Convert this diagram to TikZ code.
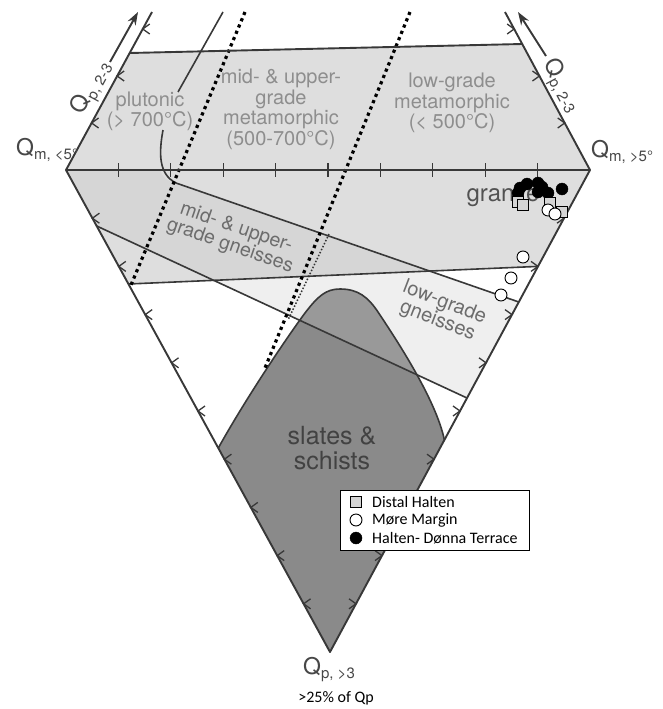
\documentclass[tikz,border=0pt]{standalone}
\usepackage{fontspec}
\setmainfont{TeX Gyre Heros}
\newfontfamily\calfont{Carlito}
\usetikzlibrary{arrows.meta}
\definecolor{fieldgrey}{HTML}{DEDEDE}
\definecolor{bandlight}{HTML}{EFEFEF}
\definecolor{linecol}{HTML}{383838}
\definecolor{labgrey}{HTML}{8E8E8E}
\definecolor{gnlab}{HTML}{6C6C6C}
\definecolor{slategrey}{HTML}{8A8A8A}
\definecolor{qcol}{HTML}{474747}
\definecolor{sqfill}{HTML}{D4D4D4}
\newcommand\Qsub[2]{{\fontsize{23}{23}\selectfont #1}\raisebox{-4pt}{\fontsize{15}{15}\selectfont #2}}
\begin{document}
\begin{tikzpicture}[x=1pt,y=-1pt,
  ln/.style={draw=linecol, line width=1.9pt, line join=round},
  thinln/.style={draw=linecol, line width=1.6pt},
  tk/.style={draw=linecol, line width=1.3pt},
  bigdots/.style={draw=black, line width=3.2pt, dash pattern=on 3.2pt off 3.6pt},
  finedots/.style={draw=black!80, line width=1.5pt, dash pattern=on 1.5pt off 1.8pt},
  toplab/.style={text=labgrey, align=center, inner sep=0pt, font=\fontsize{20}{20.5}\selectfont},
  gnl/.style={text=gnlab, align=center, inner sep=0pt, font=\fontsize{19.5}{19}\selectfont},
  qlab/.style={text=qcol, inner sep=0pt},
  blk/.style={fill=black, draw=black, circle, inner sep=0pt, minimum size=12pt},
  wht/.style={fill=white, draw=black, line width=0.9pt, circle, inner sep=0pt, minimum size=12pt},
  sq/.style={fill=sqfill, draw=black, line width=0.9pt, inner sep=0pt, minimum size=11pt},
  legtext/.style={anchor=west, inner sep=0pt, font=\calfont\fontsize{16}{16}\selectfont}]
\useasboundingbox (0,0) rectangle (662,709);
% key points
\coordinate (L) at (66,170);
\coordinate (R) at (590,170);
\coordinate (Bt) at (330,652);
\coordinate (TL) at (130,53);
\coordinate (TR) at (522,44);
\coordinate (ULe) at (152,12);
\coordinate (URe) at (505,12);
\coordinate (Bl) at (128.4,284);
\coordinate (Br) at (538,266.4);
\coordinate (Cl) at (96.7,226);
\coordinate (Cr) at (467,398);
\coordinate (Ar) at (518.8,302);
\coordinate (A0) at (176,183);
\coordinate (Sl) at (218.3,448);
\coordinate (Sr) at (444.4,440);
% fields
\fill[bandlight] (L) -- (160.5,170) .. controls (161,177) and (167,181) .. (A0) -- (Ar) -- (Cr) -- (Cl) -- cycle;
\fill[fieldgrey] (L) -- (TL) -- (TR) -- (R) -- (Br) -- (Bl) -- cycle;
\begin{scope}
\clip (L) -- (160.5,170) .. controls (161,177) and (167,181) .. (A0) -- (Ar) -- (Cr) -- (Cl) -- cycle;
\fill[black,opacity=0.035] (L) -- (R) -- (Br) -- (Bl) -- cycle;
\end{scope}
\fill[slategrey] (Sl) .. controls (245,400) and (285,340) .. (305,313) .. controls (318,296) and (326,289) .. (340,289) .. controls (358,289) and (368,297) .. (378,312) .. controls (398,342) and (436,400) .. (Sr) -- (Bt) -- cycle;
\begin{scope}
\clip (Sl) .. controls (245,400) and (285,340) .. (305,313) .. controls (318,296) and (326,289) .. (340,289) .. controls (358,289) and (368,297) .. (378,312) .. controls (398,342) and (436,400) .. (Sr) -- (Bt) -- cycle;
\fill[white,opacity=0.13] (Cl) -- (Cr) -- (Ar) -- (A0) -- cycle;
\end{scope}
\draw[thinln] (Sl) .. controls (245,400) and (285,340) .. (305,313) .. controls (318,296) and (326,289) .. (340,289) .. controls (358,289) and (368,297) .. (378,312) .. controls (398,342) and (436,400) .. (Sr);
% field boundaries
\draw[thinln] (223,12) -- (178,92);
\draw[thinln] (163,130) .. controls (159,152) and (158,174) .. (A0) -- (Ar);
\draw[thinln] (Bl) -- (Br);
\draw[thinln] (Cl) -- (Cr);
% dotted lines
\draw[bigdots] (245,12) -- (131,285);
\draw[bigdots] (410,12) -- (265,368);
\draw[finedots] (329,234) -- (288,320);
% frame
\draw[ln] (ULe) -- (L) -- (Bt) -- (R) -- (URe);
\draw[ln] (L) -- (R);
\draw[ln] (TL) -- (TR);
% ticks
\foreach \k in {1,...,9} \draw[tk] ({66+52.4*\k},163) -- ({66+52.4*\k},177);
\foreach \k in {1,...,9} \draw[tk,shift={({66+26.4*\k},{170+48.2*\k})}] (7,-5) -- (0,0) -- (7,5);
\foreach \k in {1,...,9} \draw[tk,shift={({590-26*\k},{170+48.2*\k})}] (-7,-5) -- (0,0) -- (-7,5);
\foreach \k in {1,2,3} \draw[tk,shift={({66+86*47*\k/158},{170-47*\k})}] (7,-5) -- (0,0) -- (7,5);
\foreach \k in {1,2,3} \draw[tk,shift={({590-85*47*\k/158},{170-47*\k})}] (-7,-5) -- (0,0) -- (-7,5);
% arrows
\coordinate (la0) at (110,62); \coordinate (la1) at (138,12);
\coordinate (ra0) at (546,56); \coordinate (ra1) at (518,12);
\draw[ln,-{Stealth[length=13pt,width=9pt]}] (la0) -- (la1);
\draw[ln,-{Stealth[length=13pt,width=9pt]}] (ra0) -- (ra1);
% axis labels
\node[qlab,rotate=61.6] (qpl) at (92,88) {\Qsub{Q}{p, 2-3}};
\node[qlab,rotate=-61.6] (qpr) at (561,86) {\Qsub{Q}{p, 2-3}};
\node[qlab,anchor=west] (qml) at (16,150) {\Qsub{Q}{m, <5°}};
\node[qlab,anchor=west] (qmr) at (591,152) {\Qsub{Q}{m, >5°}};
\node[qlab] (qpb) at (329,670) {\Qsub{Q}{p, >3}};
\node[inner sep=0pt,font=\calfont\fontsize{16}{16}\selectfont] (pct) at (336,698) {>25\% of Qp};
% field labels
\node[toplab] (plut) at (150,111.5) {plutonic\\(> 700°C)};
\node[toplab] (midmet) at (281,109.5) {mid- \& upper-\\grade\\metamorphic\\(500-700°C)};
\node[toplab] (lowmet) at (452,103) {low-grade\\metamorphic\\(< 500°C)};
\node[inner sep=0pt, text=black!68, font=\fontsize{24}{24}\selectfont] (gran) at (503,196) {granite};
\node[gnl,rotate=-19] (midgn) at (233,237) {mid- \& upper-\\grade gneisses};
\node[gnl,rotate=-21,font=\fontsize{20}{19.5}\selectfont] (lowgn) at (441,312) {low-grade\\gneisses};
\node[inner sep=0pt, align=center, text=black!74, font=\fontsize{25}{25.5}\selectfont] (slate) at (332,448) {slates \&\\schists};
% data
\foreach \p [count=\i] in {(520,188),(527,184),(538,183),(542,187),(538,192),(548,193),(562,189),(518,193)} \node[blk] (hd\i) at \p {};
\foreach \p [count=\i] in {(518,202),(523,205),(550,203),(562,212)} \node[sq] (dh\i) at \p {};
\foreach \p [count=\i] in {(548,210),(555,214),(523,257),(511,278),(501,295)} \node[wht] (mm\i) at \p {};
% legend
\node[draw=black, line width=1.2pt, fill=white, minimum width=189pt, minimum height=60pt, anchor=north west, inner sep=0pt] (leg) at (340,490) {};
\node[sq] (lsq) at (356,502) {};
\node[wht] (lwc) at (356,520) {};
\node[blk] (lbc) at (356,538) {};
\node[legtext] (lt1) at (372,502) {Distal Halten};
\node[legtext] (lt2) at (372,520) {Møre Margin};
\node[legtext] (lt3) at (372,538) {Halten- Dønna Terrace};
\end{tikzpicture}
\end{document}
